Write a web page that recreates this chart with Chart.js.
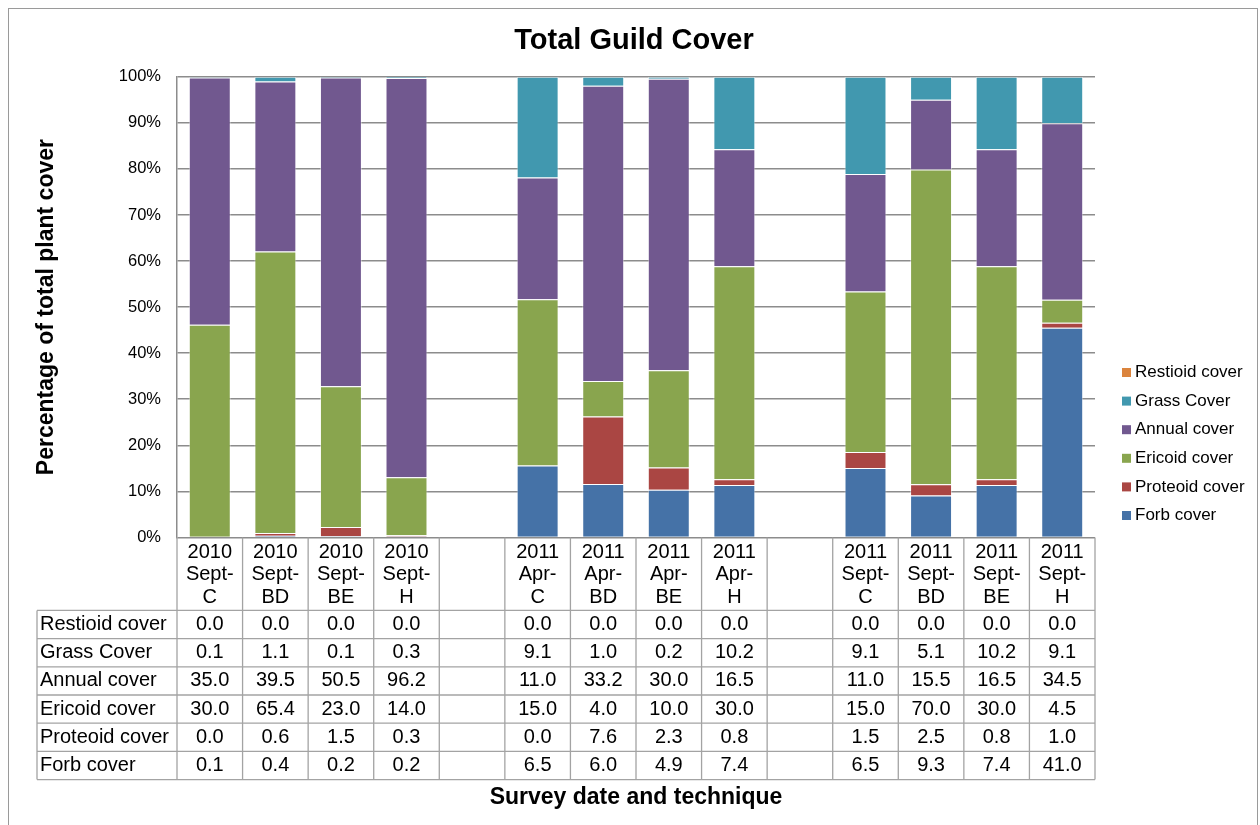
<!DOCTYPE html>
<html>
<head>
<meta charset="utf-8">
<title>Total Guild Cover</title>
<script src="https://cdn.jsdelivr.net/npm/chart.js@4.4.1/dist/chart.umd.min.js"></script>
<style>
    html, body { margin: 0; padding: 0; background: #fff; }
    #wrap { width: 1260px; height: 825px; }
</style>
</head>
<body>
<div id="wrap"><canvas id="guildChart" width="1260" height="825"></canvas></div>
<script>
// Survey columns (empty entries are the gaps between survey groups)
const categories = [
    ['2010', 'Sept-', 'C'], ['2010', 'Sept-', 'BD'], ['2010', 'Sept-', 'BE'], ['2010', 'Sept-', 'H'],
    '',
    ['2011', 'Apr-', 'C'], ['2011', 'Apr-', 'BD'], ['2011', 'Apr-', 'BE'], ['2011', 'Apr-', 'H'],
    '',
    ['2011', 'Sept-', 'C'], ['2011', 'Sept-', 'BD'], ['2011', 'Sept-', 'BE'], ['2011', 'Sept-', 'H']
];

// Raw cover values (as in the data table)
const forbCover     = [0.1, 0.4, 0.2, 0.2, null, 6.5, 6.0, 4.9, 7.4, null, 6.5, 9.3, 7.4, 41.0];
const proteoidCover = [0.0, 0.6, 1.5, 0.3, null, 0.0, 7.6, 2.3, 0.8, null, 1.5, 2.5, 0.8, 1.0];
const ericoidCover  = [30.0, 65.4, 23.0, 14.0, null, 15.0, 4.0, 10.0, 30.0, null, 15.0, 70.0, 30.0, 4.5];
const annualCover   = [35.0, 39.5, 50.5, 96.2, null, 11.0, 33.2, 30.0, 16.5, null, 11.0, 15.5, 16.5, 34.5];
const grassCover    = [0.1, 1.1, 0.1, 0.3, null, 9.1, 1.0, 0.2, 10.2, null, 9.1, 5.1, 10.2, 9.1];
const restioidCover = [0.0, 0.0, 0.0, 0.0, null, 0.0, 0.0, 0.0, 0.0, null, 0.0, 0.0, 0.0, 0.0];

// Y axis tick labels
const yTickLabels = ['0%', '10%', '20%', '30%', '40%', '50%', '60%', '70%', '80%', '90%', '100%'];

const FONT = "'Liberation Sans', Arial, sans-serif";

// column totals -> 100% stacked values
const totals = categories.map((c, i) => c === '' ? null :
    forbCover[i] + proteoidCover[i] + ericoidCover[i] + annualCover[i] + grassCover[i] + restioidCover[i]);
function toPercent(values) {
    return values.map((v, i) => v === null ? null : v / totals[i] * 100);
}

function series(label, values, color) {
    return {
        label: label,
        data: toPercent(values),
        tableValues: values,
        backgroundColor: color,
        borderColor: 'rgba(255,255,255,0.45)',
        borderWidth: 1
    };
}

// Data table under the plot + custom legend
const dataTable = {
    id: 'dataTable',
    beforeDraw: (chart) => {
        const { ctx } = chart;
        ctx.save();
        ctx.fillStyle = '#fff';
        ctx.fillRect(0, 0, chart.width, chart.height);
        ctx.strokeStyle = '#9a9a9a';
        ctx.lineWidth = 1;
        ctx.strokeRect(8.5, 8.5, 1249, 830);
        ctx.restore();
    },
    afterDraw: (chart) => {
        const { ctx, chartArea: { left, right, bottom } } = chart;
        const xScale = chart.scales.x;
        const colW = (right - left) / categories.length;
        const headerBottom = bottom + 73;
        const rowH = 28.2;
        const rows = chart.data.datasets.slice().reverse(); // Restioid first
        const tableLeft = 37;
        const tableBottom = headerBottom + rowH * rows.length;

        ctx.save();
        ctx.strokeStyle = '#a3a3a3';
        ctx.lineWidth = 1.3;

        // vertical column lines
        for (let i = 0; i <= categories.length; i++) {
            const x = i < categories.length ? xScale.getPixelForValue(i) - colW / 2
                                            : xScale.getPixelForValue(i - 1) + colW / 2;
            ctx.beginPath();
            ctx.moveTo(x, bottom);
            ctx.lineTo(x, tableBottom);
            ctx.stroke();
        }
        // left border of row labels
        ctx.beginPath();
        ctx.moveTo(tableLeft, headerBottom);
        ctx.lineTo(tableLeft, tableBottom);
        ctx.stroke();
        // horizontal row lines
        for (let r = 0; r <= rows.length; r++) {
            const y = headerBottom + r * rowH;
            ctx.beginPath();
            ctx.moveTo(tableLeft, y);
            ctx.lineTo(right, y);
            ctx.stroke();
        }

        ctx.fillStyle = '#000';
        ctx.font = `20px ${FONT}`;
        ctx.textBaseline = 'middle';

        // header (category labels)
        ctx.textAlign = 'center';
        categories.forEach((lab, i) => {
            if (!Array.isArray(lab)) return;
            const cx = xScale.getPixelForValue(i);
            lab.forEach((line, k) => {
                ctx.fillText(line, cx, bottom + 15 + k * 22.5);
            });
        });

        // rows
        rows.forEach((ds, r) => {
            const cy = headerBottom + rowH * (r + 0.5);
            ctx.textAlign = 'left';
            ctx.fillText(ds.label, tableLeft + 3, cy);
            ctx.textAlign = 'center';
            ds.tableValues.forEach((v, i) => {
                if (v === null) return;
                ctx.fillText(v.toFixed(1), xScale.getPixelForValue(i), cy);
            });
        });

        // legend (top item = last series)
        ctx.font = `17px ${FONT}`;
        ctx.textAlign = 'left';
        rows.forEach((ds, r) => {
            const ly = 372.5 + r * 28.6;
            ctx.fillStyle = ds.backgroundColor;
            ctx.fillRect(1122, ly - 4.5, 9, 9);
            ctx.fillStyle = '#000';
            ctx.fillText(ds.label, 1135, ly);
        });
        ctx.restore();
    }
};

const ctx = document.getElementById('guildChart').getContext('2d');
new Chart(ctx, {
    type: 'bar',
    data: {
        labels: categories,
        datasets: [
            series('Forb cover', forbCover, '#4572A7'),
            series('Proteoid cover', proteoidCover, '#AA4643'),
            series('Ericoid cover', ericoidCover, '#89A54E'),
            series('Annual cover', annualCover, '#71588F'),
            series('Grass Cover', grassCover, '#4198AF'),
            series('Restioid cover', restioidCover, '#DB843D')
        ]
    },
    options: {
        responsive: false,
        animation: false,
        barPercentage: 0.64,
        categoryPercentage: 1.0,
        layout: {
            padding: { left: 8, right: 0, top: 0, bottom: 0 }
        },
        plugins: {
            legend: { display: false },
            tooltip: { enabled: false },
            title: {
                display: true,
                text: 'Total Guild Cover',
                color: '#000',
                font: { family: FONT, size: 29, weight: 'bold' },
                padding: { top: 24, bottom: 18 }
            }
        },
        scales: {
            x: {
                stacked: true,
                grid: { display: false, drawTicks: false },
                border: { display: false },
                ticks: { display: false },
                title: {
                    display: true,
                    text: 'Survey date and technique',
                    color: '#000',
                    font: { family: FONT, size: 23, weight: 'bold' },
                    padding: { top: 246, bottom: 14 }
                }
            },
            y: {
                stacked: true,
                min: 0,
                max: 100,
                afterFit: (scale) => { scale.width = 169; },
                grid: { color: '#8c8c8c', lineWidth: 1.5, drawTicks: false },
                border: { color: '#8c8c8c', width: 1.5 },
                ticks: {
                    stepSize: 10,
                    padding: 16,
                    color: '#000',
                    font: { family: FONT, size: 16.5 },
                    callback: (value) => yTickLabels[Math.round(value / 10)]
                },
                title: {
                    display: true,
                    text: 'Percentage of total plant cover',
                    color: '#000',
                    font: { family: FONT, size: 23, weight: 'bold' },
                    padding: { top: 25, bottom: 0 }
                }
            },
            // empty axis on the right that keeps room for the legend
            legendSpace: {
                type: 'linear',
                position: 'right',
                display: true,
                afterFit: (scale) => { scale.width = 165; },
                grid: { display: false, drawTicks: false },
                border: { display: false },
                ticks: { display: false }
            }
        }
    },
    plugins: [dataTable]
});
</script>
</body>
</html>
